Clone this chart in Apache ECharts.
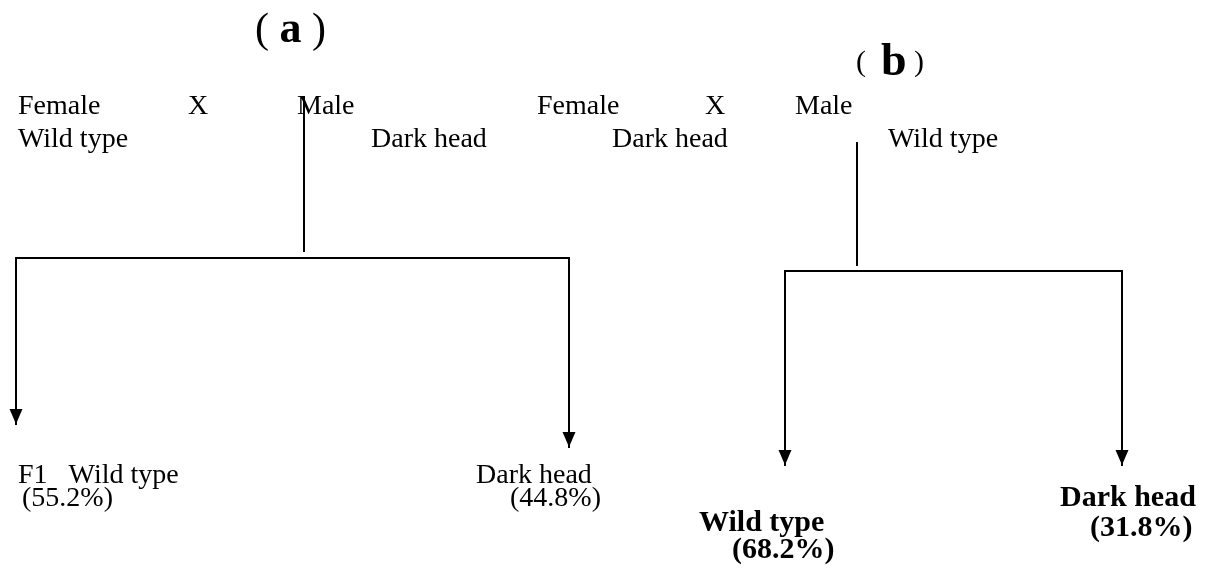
<!DOCTYPE html>
<html>
<head>
<meta charset="utf-8">
<script src="https://cdn.jsdelivr.net/npm/echarts@6/dist/echarts.min.js"></script>
<style>
html,body{margin:0;padding:0;background:#fff;}
#chart{width:1209px;height:574px;}
</style>
</head>
<body>
<div id="chart"></div>
<script>
// ---- Diagram data (positions are in the picture's own pixel space) ----
// Panel titles
const titleLetters = ['a', 'b'];
const titleX = [255, 856];
const titleY = [31, 63];

// Plain labels: text, left x, baseline y
const plainText = ['Female', 'X', 'Male', 'Wild type', 'Dark head',
                   'Female', 'X', 'Male', 'Dark head', 'Wild type',
                   'F1   Wild type', '(55.2%)', 'Dark head', '(44.8%)'];
const plainX = [18, 188, 297, 18, 371,
                537, 705, 795, 612, 888,
                18, 22, 476, 510];
const plainY = [108, 108, 108, 141, 141,
                108, 108, 108, 141, 141,
                477, 500, 477, 500];

// Bold offspring labels (panel b)
const boldText = ['Wild type', '(68.2%)', 'Dark head', '(31.8%)'];
const boldX = [699, 732, 1060, 1090];
const boldY = [525, 552, 500, 530];

// Connector segments: [x1, y1, x2, y2]
const stemSegs = [[304, 97, 304, 251], [857, 143, 857, 265]];
const barSegs = [[16, 258, 569, 258], [785, 271, 1122, 271]];
const arrowSegs = [[16, 258, 16, 424], [569, 258, 569, 447],
                   [785, 271, 785, 465], [1122, 271, 1122, 465]];

// ---- Build chart ----
const FONT = "'Liberation Serif','Times New Roman',Times,serif";
const PLAIN_FS = 28, BOLD_FS = 30;
const BASE_K = 0.05; // baseline offset from label middle (fraction of font size)

function labelData(texts, xs, ys, fs) {
  return texts.map((t, i) => ({ name: t, value: [xs[i], ys[i] - BASE_K * fs] }));
}

const segData = [...stemSegs, ...barSegs, ...arrowSegs].map(s => ({ coords: [[s[0], s[1]], [s[2], s[3]]] }));
const ARROW_W = 13, ARROW_H = 15;
const arrowData = arrowSegs.map(s => [s[2], s[3]]);

const chart = echarts.init(document.getElementById('chart'), null, { renderer: 'canvas' });
chart.setOption({
  backgroundColor: '#ffffff',
  animation: false,
  grid: { left: 0, right: 0, top: 0, bottom: 0 },
  xAxis: { type: 'value', min: 0, max: 1209, show: false },
  yAxis: { type: 'value', min: 0, max: 574, inverse: true, show: false },
  series: [
    {
      type: 'lines',
      coordinateSystem: 'cartesian2d',
      symbol: 'none',
      lineStyle: { color: '#000', width: 2, opacity: 1, cap: 'square' },
      data: segData,
      silent: true
    },
    {
      type: 'scatter',
      symbol: 'path://M0,0 L12,0 L6,14 Z',
      symbolSize: [ARROW_W, ARROW_H],
      symbolKeepAspect: false,
      symbolOffset: [0, -ARROW_H / 2],
      itemStyle: { color: '#000', opacity: 1 },
      data: arrowData,
      silent: true
    },
    {
      type: 'scatter',
      symbolSize: 0,
      data: labelData(plainText, plainX, plainY, PLAIN_FS),
      label: {
        show: true, position: [0, 0], align: 'left', verticalAlign: 'middle',
        formatter: p => p.name, color: '#000000', opacity: 1,
        fontFamily: FONT, fontSize: PLAIN_FS
      },
      silent: true
    },
    {
      type: 'scatter',
      symbolSize: 0,
      data: labelData(boldText, boldX, boldY, BOLD_FS),
      label: {
        show: true, position: [0, 0], align: 'left', verticalAlign: 'middle',
        formatter: p => p.name, color: '#000000', opacity: 1,
        fontFamily: FONT, fontSize: BOLD_FS, fontWeight: 'bold'
      },
      silent: true
    },
    {
      type: 'scatter',
      symbolSize: 0,
      data: titleLetters.map((t, i) => ({ name: t, value: [titleX[i], titleY[i]] })),
      label: {
        show: true, position: [0, 0], align: 'left', verticalAlign: 'middle',
        formatter: p => p.dataIndex === 0
          ? '{pa|( }{ta|' + p.name + '}{pa| )}'
          : '{pb|(  }{tb|' + p.name + '}{pb| )}',
        color: '#000000', opacity: 1, fontFamily: FONT,
        rich: {
          pa: { fontFamily: FONT, fontSize: 42, color: '#000000', opacity: 1 },
          pb: { fontFamily: FONT, fontSize: 30, color: '#000000', opacity: 1 },
          ta: { fontFamily: FONT, fontSize: 44, fontWeight: 'bold', color: '#000000', opacity: 1 },
          tb: { fontFamily: FONT, fontSize: 46, fontWeight: 'bold', color: '#000000', opacity: 1 }
        }
      },
      silent: true
    }
  ]
});
</script>
</body>
</html>
